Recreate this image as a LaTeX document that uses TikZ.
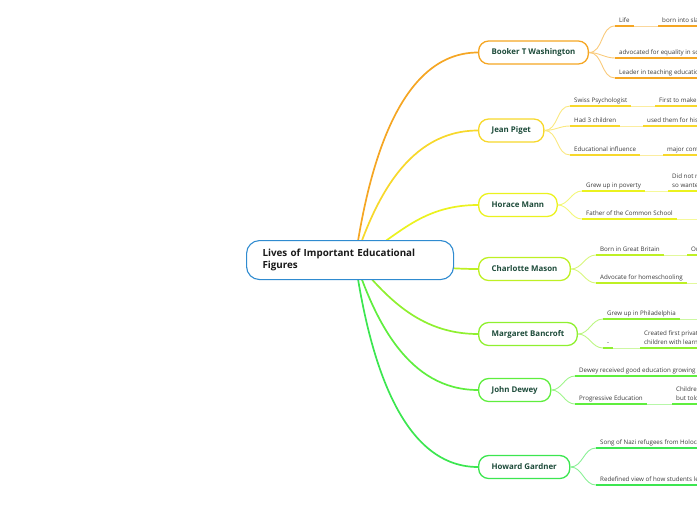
\documentclass[tikz,border=0pt]{standalone}
\usepackage{fontspec}
\setmainfont{Open Sans}
\usetikzlibrary{backgrounds}
\definecolor{cBooker}{HTML}{F5A623}
\definecolor{cJean}{HTML}{F7D82B}
\definecolor{cHorace}{HTML}{EBF21F}
\definecolor{cCharlotte}{HTML}{BEF024}
\definecolor{cMargaret}{HTML}{8FF030}
\definecolor{cDewey}{HTML}{5FEE3E}
\definecolor{cHoward}{HTML}{3CE650}
\definecolor{rootblue}{HTML}{2F8BD0}
\definecolor{maintxt}{HTML}{1D4B3A}
\definecolor{subtxt}{HTML}{3A3A3A}
\begin{document}
\begin{tikzpicture}[x=1pt,y=-1pt,
  rootnode/.style={draw=rootblue, line width=1.1pt, fill=white, rounded corners=13pt,
    minimum height=39pt, text width=175pt, inner xsep=16pt, align=left,
    font=\bfseries\fontsize{9.8}{12}\selectfont, text=black!90},
  mainnode/.style={draw=#1, line width=1.3pt, fill=white, rounded corners=10pt,
    minimum height=23pt, inner xsep=13pt, anchor=west,
    font=\bfseries\fontsize{7.9}{9}\selectfont, text=maintxt},
  subtopic/.style={font=\fontsize{6.2}{8.8}\selectfont, text=subtxt, inner xsep=4pt,
    inner ysep=2.2pt, text depth=1.4pt, anchor=south west, align=left},
  uline/.style={draw=#1, line width=1.3pt},
  lnk/.style={draw=#1!45, line width=0.9pt},
  forkline/.style={draw=#1!60, line width=0.9pt},
  mainbranch/.style={draw=#1, line width=1.7pt, line cap=round}]
\useasboundingbox (0,0) rectangle (697,520);
\clip (0,0) rectangle (697,520);
\coordinate (edge) at (705,0);

% root and main topics
\node[rootnode, anchor=north west] (root) at (246,240) {Lives of Important Educational\\Figures};
\node[mainnode=cBooker] (booker) at (478,52.5) {Booker T Washington};
\node[mainnode=cJean] (jean) at (478,130.5) {Jean Piget};
\node[mainnode=cHorace] (horace) at (478,205) {Horace Mann};
\node[mainnode=cCharlotte] (charlotte) at (478,269) {Charlotte Mason};
\node[mainnode=cMargaret] (margaret) at (478,334) {Margaret Bancroft};
\node[mainnode=cDewey] (dewey) at (478,390) {John Dewey};
\node[mainnode=cHoward] (howard) at (478,467) {Howard Gardner};

\begin{scope}[on background layer]
\coordinate (hub) at ([xshift=5pt]root.center);
\draw[mainbranch=cBooker] (hub) .. controls +(13,-90) and +(-80,0) .. (booker.west);
\draw[mainbranch=cJean] (hub) .. controls +(20,-60) and +(-70,0) .. (jean.west);
\draw[mainbranch=cHorace] (hub) .. controls +(40,-20) and +(-60,0) .. (horace.west);
\draw[mainbranch=cCharlotte] (hub) .. controls +(40,0) and +(-50,0) .. (charlotte.west);
\draw[mainbranch=cMargaret] (hub) .. controls +(30,35) and +(-60,0) .. (margaret.west);
\draw[mainbranch=cDewey] (hub) .. controls +(20,60) and +(-70,0) .. (dewey.west);
\draw[mainbranch=cHoward] (hub) .. controls +(13,90) and +(-80,0) .. (howard.west);
\end{scope}

% Booker T Washington
\node[subtopic] (b1) at (615,26) {Life};
\node[subtopic] (b1g) at (658,26) {born into slavery};
\node[subtopic] (b2) at (615,58) {advocated for equality in schools};
\node[subtopic] (b3) at (615,78) {Leader in teaching education};
\draw[forkline=cBooker] (booker.east) to[out=0,in=180] (b1.south west);
\draw[forkline=cBooker] (booker.east) to[out=0,in=180] (b2.south west);
\draw[forkline=cBooker] (booker.east) to[out=0,in=180] (b3.south west);
\draw[uline=cBooker] (b1.south west) -- (b1.south east);
\draw[lnk=cBooker] (b1.south east) -- (b1g.south west);
\draw[uline=cBooker] (b1g.south west) -- (b1g.south west -| edge);
\draw[uline=cBooker] (b2.south west) -- (b2.south west -| edge);
\draw[uline=cBooker] (b3.south west) -- (b3.south west -| edge);

% Jean Piget
\node[subtopic] (j1) at (570,106) {Swiss Psychologist};
\node[subtopic] (j1g) at (655,106) {First to make systematic study};
\node[subtopic] (j2) at (570,126) {Had 3 children};
\node[subtopic] (j2g) at (643,126) {used them for his studies};
\node[subtopic] (j3) at (570,155) {Educational influence};
\node[subtopic] (j3g) at (663,155) {major contributor};
\foreach \c in {j1,j2,j3}{\draw[forkline=cJean] (jean.east) to[out=0,in=180] (\c.south west);}
\foreach \c in {j1,j2,j3}{
  \draw[uline=cJean] (\c.south west) -- (\c.south east);
  \draw[lnk=cJean] (\c.south east) -- (\c g.south west);
  \draw[uline=cJean] (\c g.south west) -- (\c g.south west -| edge);}

% Horace Mann
\node[subtopic] (h1) at (582,191) {Grew up in poverty};
\node[subtopic] (h1g) at (668,191) {Did not need\\so wanted};
\node[subtopic] (h2) at (582,219) {Father of the Common School};
\draw[forkline=cHorace] (horace.east) to[out=0,in=180] (h1.south west);
\draw[forkline=cHorace] (horace.east) to[out=0,in=180] (h2.south west);
\draw[uline=cHorace] (h1.south west) -- (h1.south east);
\draw[lnk=cHorace] (h1.south east) -- (h1g.south west);
\draw[uline=cHorace] (h1g.south west) -- (h1g.south west -| edge);
\draw[uline=cHorace] (h2.south west) -- (h2.south east);
\draw[lnk=cHorace] (h2.south east) -- (h2.south east -| edge);

% Charlotte Mason
\node[subtopic] (c1) at (596,255) {Born in Great Britain};
\node[subtopic] (c1g) at (687,255) {Orphaned};
\node[subtopic] (c2) at (596,283) {Advocate for homeschooling};
\draw[forkline=cCharlotte] (charlotte.east) to[out=0,in=180] (c1.south west);
\draw[forkline=cCharlotte] (charlotte.east) to[out=0,in=180] (c2.south west);
\draw[uline=cCharlotte] (c1.south west) -- (c1.south east);
\draw[lnk=cCharlotte] (c1.south east) -- (c1g.south west);
\draw[uline=cCharlotte] (c1g.south west) -- (c1g.south west -| edge);
\draw[uline=cCharlotte] (c2.south west) -- (c2.south east);
\draw[lnk=cCharlotte] (c2.south east) -- (c2.south east -| edge);

% Margaret Bancroft
\node[subtopic] (m1) at (603,319) {Grew up in Philadelphia};
\node[subtopic] (m2) at (603,348) {-};
\node[subtopic] (m2g) at (640,348) {Created first private school for\\children with learning disabilities};
\draw[forkline=cMargaret] (margaret.east) to[out=0,in=180] (m1.south west);
\draw[forkline=cMargaret] (margaret.east) to[out=0,in=180] (m2.south west);
\draw[uline=cMargaret] (m1.south west) -- (m1.south east);
\draw[lnk=cMargaret] (m1.south east) -- (m1.south east -| edge);
\draw[uline=cMargaret] (m2.south west) -- (m2.south east);
\draw[lnk=cMargaret] (m2.south east) -- (m2g.south west);
\draw[uline=cMargaret] (m2g.south west) -- (m2g.south west -| edge);

% John Dewey
\node[subtopic] (d1) at (575,376) {Dewey received good education growing up};
\node[subtopic] (d2) at (575,404) {Progressive Education};
\node[subtopic] (d2g) at (672,404) {Children learn by doing\\but told what to do};
\draw[forkline=cDewey] (dewey.east) to[out=0,in=180] (d1.south west);
\draw[forkline=cDewey] (dewey.east) to[out=0,in=180] (d2.south west);
\draw[uline=cDewey] (d1.south west) -- (d1.south west -| edge);
\draw[uline=cDewey] (d2.south west) -- (d2.south east);
\draw[lnk=cDewey] (d2.south east) -- (d2g.south west);
\draw[uline=cDewey] (d2g.south west) -- (d2g.south west -| edge);

% Howard Gardner
\node[subtopic] (w1) at (596,448) {Song of Nazi refugees from Holocaust};
\node[subtopic] (w2) at (596,485) {Redefined view of how students learn};
\draw[forkline=cHoward] (howard.east) to[out=0,in=180] (w1.south west);
\draw[forkline=cHoward] (howard.east) to[out=0,in=180] (w2.south west);
\draw[uline=cHoward] (w1.south west) -- (w1.south west -| edge);
\draw[uline=cHoward] (w2.south west) -- (w2.south west -| edge);
\end{tikzpicture}
\end{document}
